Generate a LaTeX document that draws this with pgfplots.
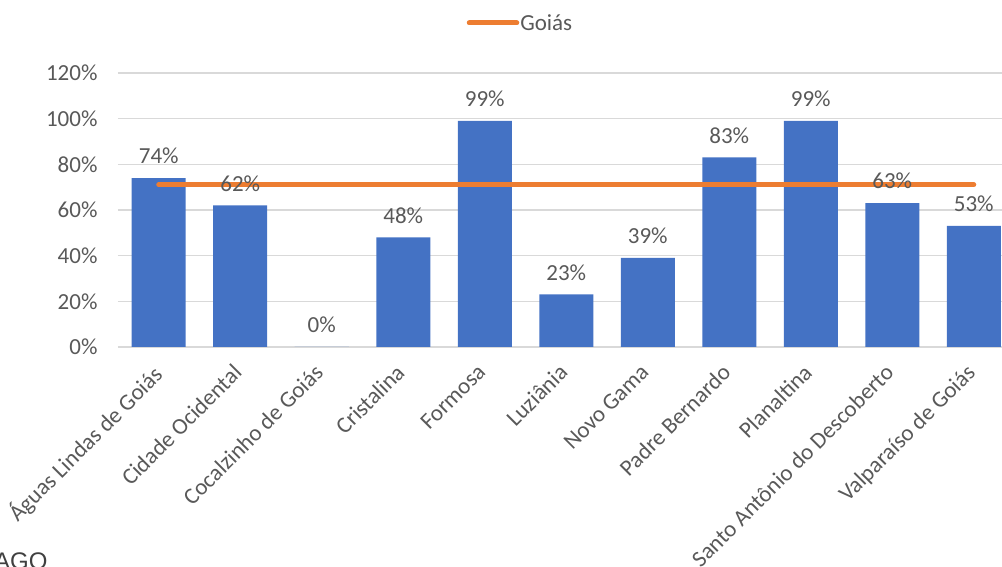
\documentclass[border=0pt]{standalone}
\usepackage{pgfplots}
\pgfplotsset{compat=1.18}
\usepackage{fontspec}
\setmainfont{Carlito}
\newfontfamily\arialfont{Liberation Sans}
\definecolor{barblue}{HTML}{4472C4}
\definecolor{lineorange}{HTML}{ED7D31}
\definecolor{textgray}{HTML}{595959}
\definecolor{gridgray}{HTML}{D9D9D9}
\newcommand{\chartfont}{\fontsize{23}{27}\selectfont}

\pgfplotstableread{
x val
0 74
1 62
2 0
3 48
4 99
5 23
6 39
7 83
8 99
9 63
10 53
}\municipios

\begin{document}
\begin{tikzpicture}[x=1pt,y=1pt]
\clip (-118,-220) rectangle (884,347);
\begin{axis}[
  at={(0,0)}, anchor=south west,
  scale only axis,
  width=896.5pt, height=274pt,
  xmin=-0.5, xmax=10.5,
  ymin=0, ymax=120,
  ytick={0,20,...,120},
  yticklabel={\pgfmathprintnumber{\tick}\%},
  xtick=data,
  xticklabels={Águas Lindas de Goiás,Cidade Ocidental,Cocalzinho de Goiás,Cristalina,Formosa,Luziânia,Novo Gama,Padre Bernardo,Planaltina,Santo Antônio do Descoberto,Valparaíso de Goiás},
  /pgf/number format/assume math mode=true,
  tick label style={font=\chartfont, text=textgray},
  yticklabel style={xshift=-17pt},
  xticklabel style={xshift=-8.5pt, yshift=-12.8pt, rotate=45, anchor=north east, inner sep=2pt},
  major tick length=0pt,
  axis x line*=bottom,
  axis y line*=left,
  y axis line style={draw=none},
  x axis line style={draw=gridgray, line width=1.2pt},
  ymajorgrids,
  grid style={draw=gridgray, line width=1.2pt},
  legend style={draw=none, fill=none, at={(0.4484,1.1825)}, anchor=center,
    font=\chartfont, text=textgray, inner sep=0pt, nodes={inner sep=1pt}},
  legend image code/.code={\draw (2.5pt,0pt) -- (50pt,0pt);},
]
\addplot[ybar, bar width=54pt, fill=barblue, draw=none, forget plot]
  table[x=x, y=val] {\municipios};
\addplot[lineorange, line width=5pt, line cap=round, mark=none]
  coordinates {(0,71) (10,71)};
\addlegendentry{Goiás}
\addplot[draw=none, mark=none, forget plot,
  nodes near coords={\pgfmathprintnumber{\pgfplotspointmeta}\%},
  every node near coord/.append style={font=\chartfont, text=textgray, anchor=center, yshift=22pt}]
  table[x=x, y=val] {\municipios};
\end{axis}
\node[anchor=base west, font=\arialfont\fontsize{24}{28}\selectfont, text=black!75, inner sep=0pt] at (-124,-223) {AGO};
\end{tikzpicture}
\end{document}
